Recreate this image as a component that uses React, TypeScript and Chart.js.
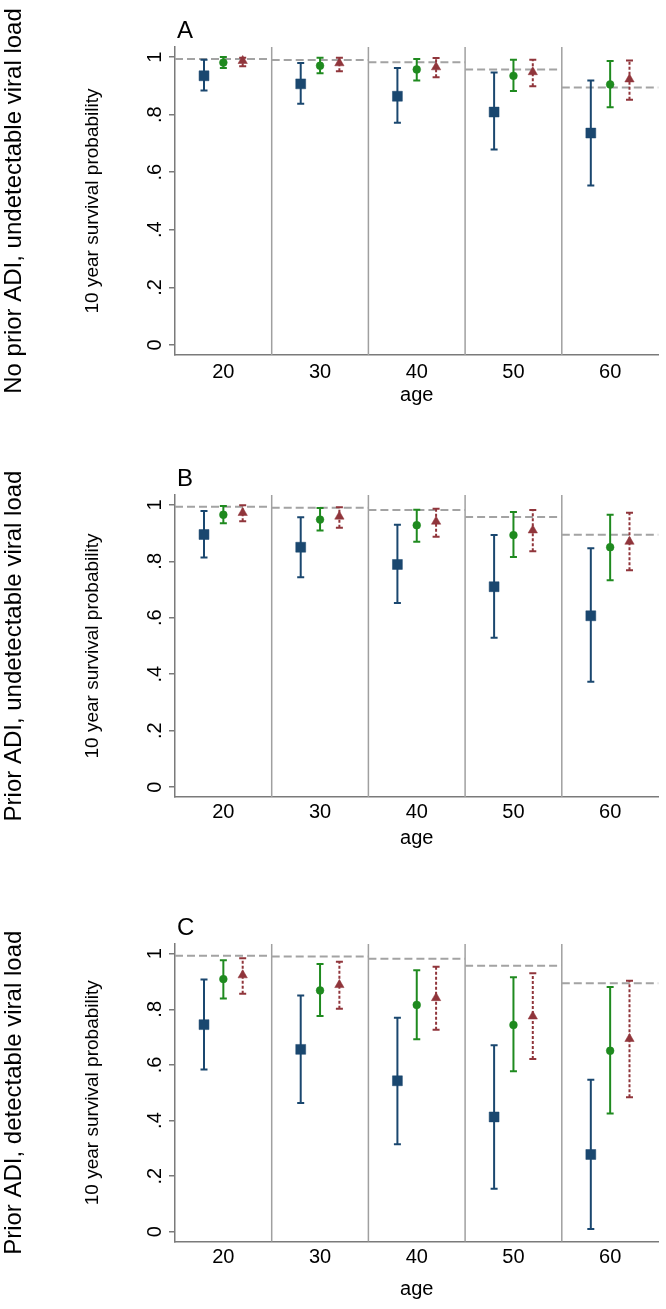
import React, { useEffect, useRef } from 'react';
import { Chart, registerables } from 'chart.js';

Chart.register(...registerables);

const FONT = '"Liberation Sans", Arial, sans-serif';

// ---- shared axis content ----
const ages = [20, 30, 40, 50, 60];
const ageTickLabels = ['20', '30', '40', '50', '60'];
const ageBandEdges = [25, 35, 45, 55];
const survivalTicks = [0, 0.2, 0.4, 0.6, 0.8, 1];
const survivalTickLabels = ['0', '.2', '.4', '.6', '.8', '1'];
const generalPopulation = [0.993, 0.99, 0.982, 0.957, 0.894];

const panelLetters = ['A', 'B', 'C'];
const panelLabels = [
  'No prior ADI, undetectable viral load',
  'Prior ADI, undetectable viral load',
  'Prior ADI, detectable viral load',
];

// ---- panel A ----
const aBlue = [0.935, 0.907, 0.864, 0.809, 0.736];
const aBlueLow = [0.884, 0.838, 0.772, 0.679, 0.554];
const aBlueHigh = [0.991, 0.979, 0.962, 0.946, 0.919];
const aGreen = [0.981, 0.97, 0.957, 0.935, 0.905];
const aGreenLow = [0.962, 0.944, 0.919, 0.882, 0.826];
const aGreenHigh = [1.0, 0.998, 0.993, 0.991, 0.986];
const aRed = [0.987, 0.979, 0.965, 0.948, 0.923];
const aRedLow = [0.968, 0.951, 0.93, 0.899, 0.852];
const aRedHigh = [0.998, 0.998, 0.997, 0.991, 0.988];

// ---- panel B ----
const bBlue = [0.895, 0.85, 0.789, 0.71, 0.607];
const bBlueLow = [0.814, 0.744, 0.652, 0.529, 0.373];
const bBlueHigh = [0.978, 0.956, 0.93, 0.893, 0.846];
const bGreen = [0.965, 0.948, 0.928, 0.893, 0.85];
const bGreenLow = [0.935, 0.909, 0.869, 0.815, 0.733];
const bGreenHigh = [0.996, 0.989, 0.983, 0.975, 0.965];
const bRed = [0.972, 0.959, 0.941, 0.91, 0.87];
const bRedLow = [0.942, 0.919, 0.887, 0.836, 0.768];
const bRedHigh = [0.999, 0.992, 0.986, 0.982, 0.972];

// ---- panel C ----
const cBlue = [0.745, 0.656, 0.543, 0.413, 0.278];
const cBlueLow = [0.584, 0.463, 0.315, 0.155, 0.01];
const cBlueHigh = [0.907, 0.85, 0.77, 0.671, 0.547];
const cGreen = [0.909, 0.868, 0.816, 0.744, 0.651];
const cGreenLow = [0.839, 0.776, 0.692, 0.577, 0.425];
const cGreenHigh = [0.977, 0.963, 0.941, 0.915, 0.88];
const cRed = [0.923, 0.888, 0.841, 0.775, 0.694];
const cRedLow = [0.856, 0.802, 0.727, 0.621, 0.484];
const cRedHigh = [0.984, 0.971, 0.953, 0.93, 0.903];

// x offsets of the three series inside each age band
const blueOffset = -2;
const greenOffset = 0;
const redOffset = 2;

const BLUE = '#1a476f';
const GREEN = '#1f8a1f';
const RED = '#90353b';
const REF = '#a3a3a3';
const AXIS = '#7a7a7a';
const SEP = '#a0a0a0';

type PanelCfg = {
  idx: number;
  height: number;
  padTop: number;
  xAxisHeight: number;
  tickPad: number;
  titlePadBottom: number;
  blue: number[]; blueLow: number[]; blueHigh: number[];
  green: number[]; greenLow: number[]; greenHigh: number[];
  red: number[]; redLow: number[]; redHigh: number[];
};

const panels: PanelCfg[] = [
  { idx: 0, height: 420, padTop: 47, xAxisHeight: 65, tickPad: 5, titlePadBottom: 13,
    blue: aBlue, blueLow: aBlueLow, blueHigh: aBlueHigh,
    green: aGreen, greenLow: aGreenLow, greenHigh: aGreenHigh,
    red: aRed, redLow: aRedLow, redHigh: aRedHigh },
  { idx: 1, height: 440, padTop: 75, xAxisHeight: 63, tickPad: 3, titlePadBottom: 10,
    blue: bBlue, blueLow: bBlueLow, blueHigh: bBlueHigh,
    green: bGreen, greenLow: bGreenLow, greenHigh: bGreenHigh,
    red: bRed, redLow: bRedLow, redHigh: bRedHigh },
  { idx: 2, height: 449, padTop: 84, xAxisHeight: 67.5, tickPad: 4, titlePadBottom: 8,
    blue: cBlue, blueLow: cBlueLow, blueHigh: cBlueHigh,
    green: cGreen, greenLow: cGreenLow, greenHigh: cGreenHigh,
    red: cRed, redLow: cRedLow, redHigh: cRedHigh },
];

function pointData(vals: number[], off: number) {
  return ages.map((a, i) => ({ x: a + off, y: vals[i] }));
}

function barData(lo: number[], hi: number[], off: number) {
  const out: any[] = [];
  ages.forEach((a, i) => {
    out.push({ x: a + off, y: lo[i] }, { x: a + off, y: hi[i] }, { x: a + off, y: null });
  });
  return out;
}

function refData() {
  const out: any[] = [];
  ages.forEach((a, i) => {
    out.push({ x: a - 5, y: generalPopulation[i] }, { x: a + 5, y: generalPopulation[i] }, { x: a + 5, y: null });
  });
  return out;
}

function errorBarDataset(data: any[], color: string, dash: number[]) {
  return {
    data,
    showLine: true,
    spanGaps: false,
    borderColor: color,
    borderWidth: 2,
    borderDash: dash,
    pointStyle: 'line',
    pointRadius: 3.5,
    pointBorderWidth: 2,
    pointBorderColor: color,
    pointBackgroundColor: color,
    pointHoverRadius: 0,
    order: 1,
  };
}

function markerDataset(data: any[], color: string, style: string, radius: number) {
  return {
    data,
    showLine: false,
    pointStyle: style,
    pointRadius: radius,
    pointBackgroundColor: color,
    pointBorderColor: color,
    pointBorderWidth: 0.5,
    pointHoverRadius: radius,
    order: 0,
  };
}

function Panel({ cfg }: { cfg: PanelCfg }) {
  const ref = useRef<HTMLCanvasElement | null>(null);

  useEffect(() => {
    if (!ref.current) return;
    const letter = panelLetters[cfg.idx];
    const sideLabel = panelLabels[cfg.idx];

    const decorations = {
      id: 'decor' + cfg.idx,
      beforeDatasetsDraw(chart: any) {
        const { ctx, chartArea, scales } = chart;
        ctx.save();
        ctx.strokeStyle = SEP;
        ctx.lineWidth = 1.5;
        ageBandEdges.forEach((v) => {
          const px = scales.x.getPixelForValue(v);
          ctx.beginPath();
          ctx.moveTo(px, chartArea.top);
          ctx.lineTo(px, chartArea.bottom);
          ctx.stroke();
        });
        ctx.restore();
      },
      afterDraw(chart: any) {
        const { ctx, chartArea } = chart;
        ctx.save();
        ctx.fillStyle = '#000';
        ctx.font = '24px ' + FONT;
        ctx.textAlign = 'left';
        ctx.textBaseline = 'alphabetic';
        ctx.fillText(letter, chartArea.left + 2, chartArea.top - 9);
        ctx.translate(14, (chartArea.top + chartArea.bottom) / 2);
        ctx.rotate(-Math.PI / 2);
        ctx.textAlign = 'center';
        ctx.textBaseline = 'middle';
        ctx.fillText(sideLabel, 0, 0);
        ctx.restore();
      },
    };

    const chart = new Chart(ref.current, {
      type: 'scatter',
      data: {
        datasets: [
          markerDataset(pointData(cfg.blue, blueOffset), BLUE, 'rect', 7),
          markerDataset(pointData(cfg.green, greenOffset), GREEN, 'circle', 3.9),
          markerDataset(pointData(cfg.red, redOffset), RED, 'triangle', 5.4),
          errorBarDataset(barData(cfg.blueLow, cfg.blueHigh, blueOffset), BLUE, []),
          errorBarDataset(barData(cfg.greenLow, cfg.greenHigh, greenOffset), GREEN, []),
          errorBarDataset(barData(cfg.redLow, cfg.redHigh, redOffset), RED, [3, 2]),
          {
            data: refData(),
            showLine: true,
            spanGaps: false,
            borderColor: REF,
            borderWidth: 2,
            borderDash: [8, 4],
            pointRadius: 0,
            pointHoverRadius: 0,
            order: 2,
          },
        ] as any,
      },
      options: {
        responsive: false,
        animation: false,
        events: [],
        layout: { padding: { left: 0, right: 6, top: cfg.padTop, bottom: 0 } },
        plugins: { legend: { display: false }, tooltip: { enabled: false } },
        scales: {
          x: {
            type: 'linear',
            min: 15,
            max: 65,
            afterBuildTicks: (scale: any) => {
              scale.ticks = ages.map((v) => ({ value: v }));
            },
            afterFit: (scale: any) => {
              scale.height = cfg.xAxisHeight;
            },
            grid: { display: false, drawTicks: false },
            border: { display: true, color: AXIS, width: 1.5 },
            ticks: {
              color: '#000',
              font: { family: FONT, size: 20 },
              padding: cfg.tickPad,
              autoSkip: false,
              maxRotation: 0,
              callback: (_v: any, i: number) => ageTickLabels[i],
            },
            title: {
              display: true,
              text: 'age',
              color: '#000',
              font: { family: FONT, size: 20 },
              padding: { top: 0, bottom: cfg.titlePadBottom },
            },
          },
          y: {
            type: 'linear',
            min: -0.035,
            max: 1.035,
            afterBuildTicks: (scale: any) => {
              scale.ticks = survivalTicks.map((v) => ({ value: v }));
            },
            afterFit: (scale: any) => {
              scale.width = 175;
            },
            grid: { display: true, drawOnChartArea: false, drawTicks: true, tickLength: 6, color: AXIS, lineWidth: 1.5 },
            border: { display: true, color: AXIS, width: 1.5 },
            ticks: {
              color: '#000',
              font: { family: FONT, size: 20 },
              padding: 5,
              autoSkip: false,
              minRotation: 90,
              maxRotation: 90,
              crossAlign: 'center',
              callback: (_v: any, i: number) => survivalTickLabels[i],
            },
            title: {
              display: true,
              text: '10 year survival probability',
              color: '#000',
              font: { family: FONT, size: 19 },
              padding: { top: 81, bottom: 0 },
            },
          },
        },
      } as any,
      plugins: [decorations],
    });
    return () => chart.destroy();
  }, [cfg]);

  return (
    <canvas
      ref={ref}
      width={666}
      height={cfg.height}
      style={{ display: 'block', width: 666, height: cfg.height }}
    />
  );
}

export default function App() {
  return (
    <div style={{ position: 'absolute', left: 0, top: 0, width: 666, height: 1309, background: '#fff' }}>
      {panels.map((p) => (
        <Panel key={p.idx} cfg={p} />
      ))}
    </div>
  );
}
